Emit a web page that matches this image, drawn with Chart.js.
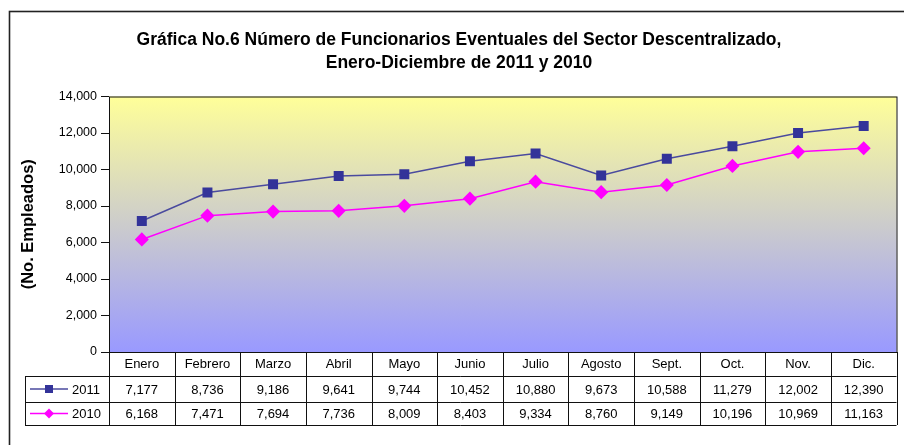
<!DOCTYPE html>
<html>
<head>
<meta charset="utf-8">
<script src="https://cdn.jsdelivr.net/npm/chart.js@4/dist/chart.umd.min.js"></script>
<style>
  html, body { margin: 0; padding: 0; background: #fff; }
  #wrap { width: 904px; height: 445px; }
</style>
</head>
<body>
<div id="wrap"><canvas id="lineas" width="904" height="445"></canvas></div>
<script>
// --- Data ---
const meses = ["Enero", "Febrero", "Marzo", "Abril", "Mayo", "Junio", "Julio", "Agosto", "Sept.", "Oct.", "Nov.", "Dic."];
const datos2011 = [7177, 8736, 9186, 9641, 9744, 10452, 10880, 9673, 10588, 11279, 12002, 12390];
const datos2010 = [6168, 7471, 7694, 7736, 8009, 8403, 9334, 8760, 9149, 10196, 10969, 11163];
const yTicks = [0, 2000, 4000, 6000, 8000, 10000, 12000, 14000];

const canvas = document.getElementById("lineas");
const FONT = "'Liberation Sans', Arial, sans-serif";

// table row edges (below chart area)
const ROW_H1 = 24;   // header row with month names
const ROW_H2 = 26;   // 2011 row
const ROW_H3 = 23;   // 2010 row
const TABLE_LEFT = 25;

// --- Plugin: outer border, gradient and data table ---
const marcoPlugin = {
  id: "marco",
  beforeDraw(chart) {
    const ctx = chart.ctx;
    const a = chart.chartArea;
    ctx.save();
    ctx.strokeStyle = "#222";
    ctx.lineWidth = 1.6;
    ctx.strokeRect(9.5, 11.5, 1000, 1000);

    const grad = ctx.createLinearGradient(0, a.top, 0, a.bottom);
    grad.addColorStop(0, "#FFFF99");
    grad.addColorStop(1, "#9999FF");
    ctx.fillStyle = grad;
    ctx.fillRect(a.left, a.top, a.right - a.left, a.bottom - a.top);
    ctx.restore();
  },
  beforeDatasetsDraw(chart) {
    const ctx = chart.ctx;
    const a = chart.chartArea;
    ctx.save();
    ctx.strokeStyle = "#111";
    ctx.lineWidth = 1;
    ctx.strokeRect(a.left + 0.5, a.top + 0.5, a.right - a.left, a.bottom - a.top);
    ctx.restore();
  },
  afterDraw(chart) {
    const ctx = chart.ctx;
    const a = chart.chartArea;
    const x = chart.scales.x;
    const step = (a.right - a.left) / meses.length;
    const y0 = a.bottom;
    const y1 = y0 + ROW_H1;
    const y2 = y1 + ROW_H2;
    const y3 = y2 + ROW_H3;

    ctx.save();
    ctx.strokeStyle = "#111";
    ctx.lineWidth = 1;

    // horizontal lines
    ctx.beginPath();
    ctx.moveTo(TABLE_LEFT, y1 + 0.5); ctx.lineTo(a.right, y1 + 0.5);
    ctx.moveTo(TABLE_LEFT, y2 + 0.5); ctx.lineTo(a.right, y2 + 0.5);
    ctx.moveTo(TABLE_LEFT, y3 + 0.5); ctx.lineTo(a.right, y3 + 0.5);
    ctx.moveTo(TABLE_LEFT + 0.5, y1); ctx.lineTo(TABLE_LEFT + 0.5, y3);
    // vertical lines between months
    for (let i = 0; i <= meses.length; i++) {
      const vx = Math.round(a.left + i * step) + 0.5;
      ctx.moveTo(vx, y0); ctx.lineTo(vx, y3);
    }
    ctx.stroke();

    // values
    ctx.fillStyle = "#000";
    ctx.font = "13px " + FONT;
    ctx.textAlign = "center";
    ctx.textBaseline = "middle";
    const filas = [datos2011, datos2010];
    const centros = [(y1 + y2) / 2, (y2 + y3) / 2];
    filas.forEach((fila, r) => {
      fila.forEach((v, i) => {
        ctx.fillText(v.toLocaleString("en-US"), x.getPixelForTick(i), centros[r] + 1);
      });
    });

    // legend keys
    chart.data.datasets.forEach((ds, r) => {
      const cy = centros[r];
      ctx.strokeStyle = ds.borderColor;
      ctx.lineWidth = 1.5;
      ctx.beginPath();
      ctx.moveTo(30, cy); ctx.lineTo(68, cy);
      ctx.stroke();
      ctx.fillStyle = ds.pointBackgroundColor;
      ctx.beginPath();
      if (ds.pointStyle === "rect") {
        ctx.rect(45, cy - 4, 8, 8);
      } else {
        ctx.moveTo(49, cy - 5); ctx.lineTo(54, cy); ctx.lineTo(49, cy + 5); ctx.lineTo(44, cy);
        ctx.closePath();
      }
      ctx.fill();
      ctx.fillStyle = "#000";
      ctx.textAlign = "left";
      ctx.fillText(ds.label, 72, cy + 1);
    });
    ctx.restore();
  }
};

// --- Chart ---
const cfg = {
  type: "line",
  data: {
    labels: meses,
    datasets: [
      {
        label: "2011",
        data: datos2011,
        borderColor: "#4A4A9E",
        backgroundColor: "#333399",
        pointBackgroundColor: "#333399",
        pointBorderColor: "#333399",
        pointStyle: "rect",
        pointRadius: 6,
        borderWidth: 1.5,
      },
      {
        label: "2010",
        data: datos2010,
        borderColor: "#FF00FF",
        backgroundColor: "#FF00FF",
        pointBackgroundColor: "#FF00FF",
        pointBorderColor: "#FF00FF",
        pointStyle: "rectRot",
        pointRadius: 6,
        borderWidth: 1.5,
      },
    ],
  },
  options: {
    responsive: false,
    animation: false,
    layout: { padding: { left: 19, right: 5, top: 0, bottom: 0 } },
    plugins: {
      legend: { display: false },
      tooltip: { enabled: false },
      title: {
        display: true,
        text: ["Gráfica No.6 Número de Funcionarios Eventuales del Sector Descentralizado,", "Enero-Diciembre de 2011 y 2010"],
        color: "#000",
        font: { family: FONT, size: 17.5, weight: "bold", lineHeight: 1.3 },
        padding: { top: 29, bottom: 22 },
      },
    },
    scales: {
      x: {
        offset: true,
        grid: { display: false, drawTicks: false },
        border: { display: false },
        ticks: { color: "#000", font: { family: FONT, size: 13 }, padding: 5, maxRotation: 0, autoSkip: false },
        afterFit(s) { s.height = 93; },
      },
      y: {
        min: 0,
        max: 14000,
        afterBuildTicks(s) { s.ticks = yTicks.map(v => ({ value: v })); },
        grid: { drawOnChartArea: false, color: "#111", tickLength: 8 },
        border: { display: false },
        ticks: {
          color: "#000",
          font: { family: FONT, size: 12.5 },
          padding: 4,
          callback: v => v.toLocaleString("en-US"),
        },
        title: {
          display: true,
          text: "(No. Empleados)",
          color: "#000",
          font: { family: FONT, size: 16.5, weight: "bold" },
          padding: 0,
        },
        afterFit(s) { s.width = 90; },
      },
    },
  },
  plugins: [marcoPlugin],
};

new Chart(canvas, cfg);
</script>
</body>
</html>
